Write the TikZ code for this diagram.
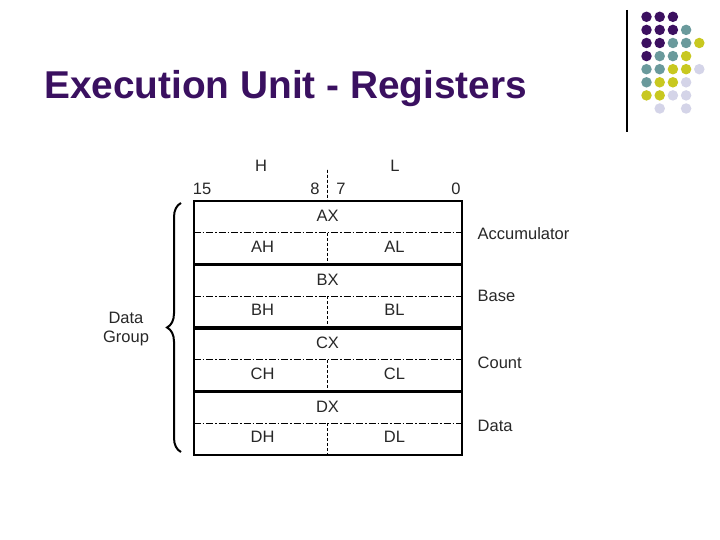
\documentclass[tikz,border=0pt]{standalone}
\usepackage{fontspec}
\setmainfont{Liberation Sans}
\usetikzlibrary{decorations.pathreplacing,calc}
\definecolor{ttl}{RGB}{58,16,96}
\definecolor{dP}{RGB}{60,16,96}
\definecolor{dT}{RGB}{106,154,156}
\definecolor{dY}{RGB}{200,200,32}
\definecolor{dL}{RGB}{212,212,232}
\definecolor{txt}{RGB}{40,40,40}
\begin{document}
\begin{tikzpicture}[x=1bp,y=-1bp,
  regbox/.style={draw=black,line width=2bp,minimum width=268bp,minimum height=63.5bp,inner sep=0pt,outer sep=0pt},
  sep/.style={line width=3.2bp},
  dashdot/.style={line width=0.9bp,dash pattern=on 7bp off 2bp on 1.5bp off 2bp},
  vdash/.style={line width=0.9bp,dash pattern=on 3bp off 2bp},
  lbl/.style={font=\fontsize{16.5bp}{19bp}\selectfont,text=txt,inner sep=0pt},
  side/.style={lbl,anchor=west},
  dot/.style={circle,inner sep=0pt,minimum size=10.5bp}]
\useasboundingbox (0,0) rectangle (720,540);
\fill[white] (0,0) rectangle (720,540);
% title
\node[anchor=west,inner sep=0pt,text=ttl,font=\fontsize{38.8bp}{46bp}\selectfont\bfseries] (title) at (44,89) {Execution Unit - Registers};
% decoration
\coordinate (vl1) at (627,10);
\coordinate (vl2) at (627,132);
\draw[line width=1.2bp] (vl1) -- (vl2);
\foreach \c/\r/\col in {0/0/dP,1/0/dP,2/0/dP,
  0/1/dP,1/1/dP,2/1/dP,3/1/dT,
  0/2/dP,1/2/dP,2/2/dT,3/2/dT,4/2/dY,
  0/3/dP,1/3/dT,2/3/dT,3/3/dY,
  0/4/dT,1/4/dT,2/4/dY,3/4/dY,4/4/dL,
  0/5/dT,1/5/dY,2/5/dY,3/5/dL,
  0/6/dY,1/6/dY,2/6/dL,3/6/dL,
  1/7/dL,3/7/dL}{
  \node[dot,fill=\col] (d\c\r) at ({646.5+13.2*\c},{16.8+13.1*\r}) {};
}
% header
\node[lbl] (H) at (261,166) {H};
\node[lbl] (L) at (395,166) {L};
\node[lbl] (b15) at (202,189) {15};
\node[lbl] (b8) at (315,189) {8};
\node[lbl] (b7) at (341,189) {7};
\node[lbl] (b0) at (456,189) {0};
% registers
\foreach \r/\top/\lab/\dy in {A/201/Accumulator/1,B/264.5/Base/0,C/328/Count/3,D/391.5/Data/3}{
  \node[regbox,anchor=north west] (\r X) at (193.5,\top) {};
  \draw[dashdot] (\r X.west) -- (\r X.east);
  \draw[vdash] (\r X.center) -- (\r X.south);
  \node[lbl] (\r Xt) at ($(\r X.center)+(0,-16.5)$) {\r X};
  \node[lbl] (\r H) at ($(\r X.center)+(-65,14)$) {\r H};
  \node[lbl] (\r L) at ($(\r X.center)+(67,14)$) {\r L};
  \node[side] (\r s) at ($(\r X.east)+(16,\dy)$) {\lab};
}
\coordinate (vtop) at (327.5,170);
\draw[vdash] (vtop) -- (AX.north);
\draw[sep] (AX.south west) -- (AX.south east);
\draw[sep] (BX.south west) -- (BX.south east);
\draw[sep] (CX.south west) -- (CX.south east);
% brace
\coordinate (br1) at (181,452);
\coordinate (br2) at (181,203);
\draw[decorate,decoration={brace,amplitude=14bp},line width=2bp] (br1) -- (br2);
\node[lbl,align=center,font=\fontsize{16.5bp}{19bp}\selectfont] (dg) at (126,329) {Data\\Group};
\end{tikzpicture}
\end{document}
